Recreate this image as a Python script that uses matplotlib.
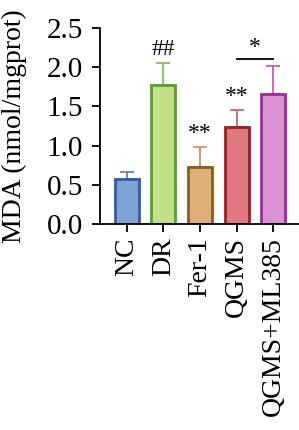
import matplotlib.pyplot as plt
import numpy as np

# groups and values
groups = ['NC', 'DR', 'Fer-1', 'QGMS', 'QGMS+ML385']
means = [0.58, 1.77, 0.73, 1.24, 1.66]
errs = [0.08, 0.28, 0.25, 0.21, 0.36]
marks = ['', '##', '**', '**', '']

fills = ['#7fa2d4', '#c2e085', '#ddb078', '#e0787f', '#dc92d2']
edges = ['#2f5ca8', '#5aa02a', '#8b5a1c', '#9c1d26', '#a0289e']
errc = ['#4f7bc4', '#7fb854', '#c98a55', '#cc5660', '#c050b8']

plt.rcParams['font.family'] = ['Liberation Serif', 'DejaVu Serif']
plt.rcParams['font.size'] = 20

fig = plt.figure(figsize=(2.99, 4.30), dpi=100)
ax = fig.add_axes([0.334, 0.479, 0.666, 0.456])

x = np.arange(len(groups))
for i in range(len(groups)):
    ax.bar(x[i], means[i], width=0.65, color=fills[i], edgecolor=edges[i], linewidth=2, zorder=2)
    ax.errorbar(x[i], means[i], yerr=[[0], [errs[i]]], fmt='none', ecolor=errc[i],
                elinewidth=1.2, capsize=5, capthick=1.2, zorder=1)
    if marks[i]:
        ax.text(x[i], means[i] + errs[i] + 0.04, marks[i], ha='center', va='bottom', fontsize=17)

# comparison bracket QGMS vs QGMS+ML385
ax.plot([3, 4], [2.11, 2.11], color='black', lw=1.3, clip_on=False)
ax.text(3.5, 2.12, '*', ha='center', va='bottom', fontsize=17)

ax.set_xlim(-0.73, 4.7)
ax.set_ylim(0, 2.5)
ax.set_yticks([0, 0.5, 1.0, 1.5, 2.0, 2.5])
ax.set_yticklabels(['0.0', '0.5', '1.0', '1.5', '2.0', '2.5'], fontsize=21)
ax.set_xticks(x)
ax.set_xticklabels(groups, rotation=90)
ax.set_ylabel('MDA (nmol/mgprot)', labelpad=14)
ax.spines['top'].set_visible(False)
ax.spines['right'].set_visible(False)
ax.spines['left'].set_linewidth(1.3)
ax.spines['bottom'].set_linewidth(1.3)
ax.tick_params(width=1.3, length=6)
ax.tick_params(axis='y', pad=6)

plt.savefig('out.png', dpi=100)
